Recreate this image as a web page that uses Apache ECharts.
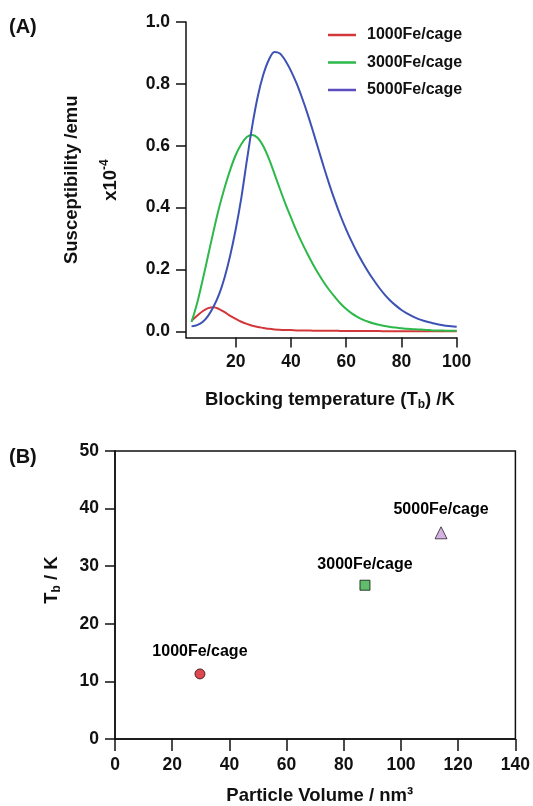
<!DOCTYPE html>
<html>
<head>
<meta charset="utf-8">
<script src="https://cdn.jsdelivr.net/npm/echarts@6/dist/echarts.min.js"></script>
<style>
  html, body { margin: 0; padding: 0; background: #fff; }
  #chart { width: 533px; height: 806px; }
</style>
</head>
<body>
<div id="chart"></div>
<script>
var chart = document.getElementById('chart');
var myChart = echarts.init(chart);

// panel A: susceptibility vs temperature (read every 2 K)
var temps = [4, 6, 8, 10, 12, 14, 16, 18, 20, 22, 24, 26, 28, 30, 32, 34, 36, 38, 40, 42, 44, 46, 48, 50,
             52, 54, 56, 58, 60, 62, 64, 66, 68, 70, 72, 74, 76, 78, 80, 82, 84, 86, 88, 90, 92, 94, 96, 98, 100];
var sus1000 = [0.034, 0.05, 0.065, 0.075, 0.078, 0.072, 0.062, 0.05, 0.04, 0.031, 0.024, 0.018, 0.014, 0.011, 0.008, 0.006, 0.005, 0.004, 0.004, 0.003, 0.003, 0.003, 0.002, 0.002,
               0.002, 0.002, 0.002, 0.001, 0.001, 0.001, 0.001, 0.001, 0.001, 0.001, 0.001, 0, 0, 0, 0, 0, 0, 0, 0, 0, 0, 0, 0, 0, 0];
var sus3000 = [0.03, 0.09, 0.165, 0.245, 0.325, 0.4, 0.465, 0.522, 0.57, 0.605, 0.628, 0.635, 0.625, 0.598, 0.558, 0.51, 0.46, 0.412, 0.368, 0.325, 0.286, 0.25, 0.216, 0.185,
               0.157, 0.132, 0.11, 0.089, 0.072, 0.058, 0.047, 0.038, 0.031, 0.025, 0.021, 0.017, 0.014, 0.012, 0.01, 0.008, 0.007, 0.006, 0.005, 0.004, 0.003, 0.003, 0.002, 0.002, 0.002];
var sus5000 = [0.016, 0.02, 0.03, 0.05, 0.08, 0.12, 0.175, 0.245, 0.33, 0.43, 0.55, 0.665, 0.76, 0.83, 0.878, 0.903, 0.898, 0.875, 0.842, 0.802, 0.755, 0.703, 0.646, 0.587,
               0.528, 0.472, 0.42, 0.372, 0.329, 0.29, 0.254, 0.222, 0.192, 0.165, 0.14, 0.118, 0.099, 0.083, 0.069, 0.058, 0.048, 0.04, 0.034, 0.029, 0.025, 0.021, 0.018, 0.016, 0.015];
var seriesNames = ['1000Fe/cage', '3000Fe/cage', '5000Fe/cage'];
var xTicksA = [20, 40, 60, 80, 100];
var yTicksA = [0, 0.2, 0.4, 0.6, 0.8, 1.0];

// panel B: blocking temperature vs particle volume
var volume = [29.7, 87.4, 114.0];
var tb = [11.3, 26.7, 35.8];

var font = "'Liberation Sans', Arial, sans-serif";
var ink = '#111';
var colors = ['#d2383a', '#2db84a', '#3c52b4'];

function pairs(ys) {
    return temps.map(function (t, i) { return [t, ys[i]]; });
}

var axisLine = { show: true, onZero: false, lineStyle: { color: ink, width: 1.5 } };
var tickStyle = { color: ink, width: 1.5 };
var labelStyle = { color: ink, fontSize: 17.5, fontWeight: 'bold', fontFamily: font };
var ptLabel = { show: true, position: 'top', fontSize: 16, fontWeight: 'bold', fontFamily: font, color: '#000', opacity: 1 };

var option = {
    backgroundColor: '#fff',
    animation: false,
    grid: [
        { left: 186, right: 76.3, top: 22, bottom: 468.5 },
        { left: 115, right: 17, top: 451, bottom: 66.7, show: true, borderColor: ink, borderWidth: 1.5 }
    ],
    legend: {
        orient: 'vertical',
        left: 323,
        top: 22,
        icon: 'rect',
        itemWidth: 28,
        itemHeight: 2.5,
        itemGap: 11.5,
        textStyle: { color: ink, fontSize: 16, fontWeight: 'bold', fontFamily: font, padding: [0, 0, 0, 6] },
        data: [
            { name: seriesNames[0] },
            { name: seriesNames[1] },
            { name: seriesNames[2], itemStyle: { color: '#5b4cbf' } }
        ]
    },
    xAxis: [
        {
            gridIndex: 0, type: 'value', min: 2, max: 100,
            axisLine: axisLine,
            axisTick: { show: true, length: 10, lineStyle: tickStyle, customValues: xTicksA },
            axisLabel: Object.assign({ margin: 16, customValues: xTicksA }, labelStyle),
            splitLine: { show: false },
            name: '{a|Blocking temperature (T}{s|b}{a|) /K}',
            nameLocation: 'middle',
            nameGap: 51,
            nameTextStyle: {
                padding: [0, 0, 0, 17],
                rich: {
                    a: { fontSize: 18.5, fontWeight: 'bold', fontFamily: font, color: ink, lineHeight: 22 },
                    s: { fontSize: 12, fontWeight: 'bold', fontFamily: font, color: ink, verticalAlign: 'bottom', lineHeight: 22 }
                }
            }
        },
        {
            gridIndex: 1, type: 'value', min: 0, max: 140, interval: 20,
            axisLine: axisLine,
            axisTick: { show: true, length: 12, lineStyle: tickStyle },
            axisLabel: Object.assign({ margin: 17 }, labelStyle),
            splitLine: { show: false },
            name: 'Particle Volume / nm³',
            nameLocation: 'middle',
            nameGap: 47,
            nameTextStyle: { fontSize: 18.5, fontWeight: 'bold', fontFamily: font, color: ink, padding: [0, 0, 0, 9] }
        }
    ],
    yAxis: [
        {
            gridIndex: 0, type: 'value', min: -0.02, max: 1.0,
            axisLine: axisLine,
            axisTick: { show: true, length: 10, lineStyle: tickStyle, customValues: yTicksA },
            axisLabel: Object.assign({
                margin: 16, customValues: yTicksA,
                formatter: function (v) { return v.toFixed(1); }
            }, labelStyle),
            splitLine: { show: false },
            name: 'Susceptibility /emu',
            nameLocation: 'middle',
            nameRotate: 90,
            nameGap: 105,
            nameTextStyle: { fontSize: 18.5, fontWeight: 'bold', fontFamily: font, color: ink }
        },
        {
            gridIndex: 1, type: 'value', min: 0, max: 50, interval: 10,
            axisLine: axisLine,
            axisTick: { show: true, length: 10, lineStyle: tickStyle },
            axisLabel: Object.assign({ margin: 16 }, labelStyle),
            splitLine: { show: false },
            name: '{a|T}{s|b}{a| / K}',
            nameLocation: 'middle',
            nameRotate: 90,
            nameGap: 52,
            nameTextStyle: {
                padding: [0, 0, 0, 30],
                rich: {
                    a: { fontSize: 18.5, fontWeight: 'bold', fontFamily: font, color: ink, lineHeight: 22 },
                    s: { fontSize: 12, fontWeight: 'bold', fontFamily: font, color: ink, verticalAlign: 'bottom', lineHeight: 22 }
                }
            }
        }
    ],
    graphic: [
        { type: 'text', left: 9, top: 17, style: { text: '(A)', fontSize: 20, fontWeight: 'bold', fontFamily: font, fill: ink } },
        { type: 'text', left: 9, top: 447, style: { text: '(B)', fontSize: 20, fontWeight: 'bold', fontFamily: font, fill: ink } },
        {
            type: 'text', x: 110.6, y: 180, rotation: Math.PI / 2,
            style: {
                text: '{a|x10}{s|-4}', align: 'center', verticalAlign: 'middle',
                rich: {
                    a: { fontSize: 18.5, fontWeight: 'bold', fontFamily: font, fill: ink, lineHeight: 24 },
                    s: { fontSize: 12, fontWeight: 'bold', fontFamily: font, fill: ink, verticalAlign: 'top', lineHeight: 24 }
                }
            }
        }
    ],
    series: [
        { name: seriesNames[0], type: 'line', xAxisIndex: 0, yAxisIndex: 0, data: pairs(sus1000), smooth: 0.3, symbol: 'none', lineStyle: { width: 2, color: colors[0] }, itemStyle: { color: colors[0] } },
        { name: seriesNames[1], type: 'line', xAxisIndex: 0, yAxisIndex: 0, data: pairs(sus3000), smooth: 0.3, symbol: 'none', lineStyle: { width: 2, color: colors[1] }, itemStyle: { color: colors[1] } },
        { name: seriesNames[2], type: 'line', xAxisIndex: 0, yAxisIndex: 0, data: pairs(sus5000), smooth: 0.3, symbol: 'none', lineStyle: { width: 2, color: colors[2] }, itemStyle: { color: colors[2] } },
        {
            name: 'B1', type: 'scatter', xAxisIndex: 1, yAxisIndex: 1,
            data: [[volume[0], tb[0]]], symbol: 'circle', symbolSize: 10,
            itemStyle: { color: '#d41a26', borderColor: '#2a0a0a', borderWidth: 1 },
            label: Object.assign({ distance: 9, formatter: seriesNames[0] }, ptLabel)
        },
        {
            name: 'B2', type: 'scatter', xAxisIndex: 1, yAxisIndex: 1,
            data: [[volume[1], tb[1]]], symbol: 'rect', symbolSize: 10,
            itemStyle: { color: '#3aad46', borderColor: '#0a150a', borderWidth: 1 },
            label: Object.assign({ distance: 7, formatter: seriesNames[1] }, ptLabel)
        },
        {
            name: 'B3', type: 'scatter', xAxisIndex: 1, yAxisIndex: 1,
            data: [[volume[2], tb[2]]], symbol: 'triangle', symbolSize: 12,
            itemStyle: { color: '#c9a0dc', borderColor: '#2a2030', borderWidth: 1 },
            label: Object.assign({ distance: 9, formatter: seriesNames[2] }, ptLabel)
        }
    ]
};

myChart.setOption(option);
</script>
</body>
</html>
